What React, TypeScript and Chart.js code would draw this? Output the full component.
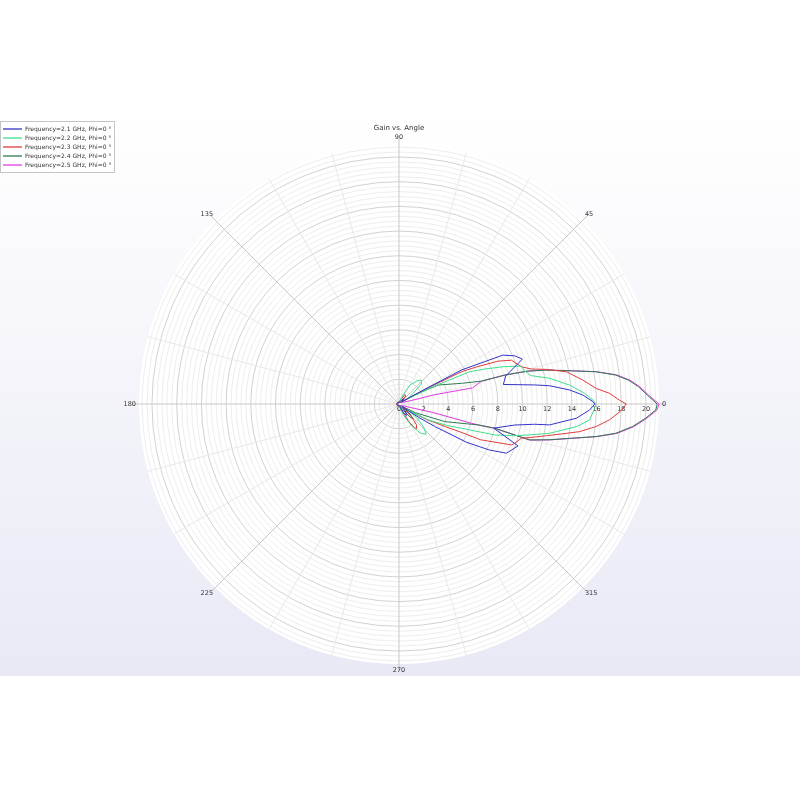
import { useEffect, useRef } from "react"
import { Chart, registerables, type Plugin } from "chart.js"

Chart.register(...registerables)

// far-field gain (linear) vs. angle in degrees
const seriesLabels = [
  "Frequency=2.1 GHz, Phi=0 °",
  "Frequency=2.2 GHz, Phi=0 °",
  "Frequency=2.3 GHz, Phi=0 °",
  "Frequency=2.4 GHz, Phi=0 °",
  "Frequency=2.5 GHz, Phi=0 °",
]
const seriesColors = ["#3434c8", "#3ee08c", "#e03c3c", "#2f7a52", "#e63ce6"]

const angle21 = [-180, -120, -90, -70, -62, -56, -50, -44, -38, -36, -34, -32, -29.5, -27, -25, -24.6, -19.4, -14.3, -10.3, -8.5, -7.9, -4.6, -1.8, 0, 0.7, 2.8, 4.7, 6.9, 8, 10.6, 14.7, 20, 22.6, 25.2, 28.5, 29.5, 32, 40, 48, 55, 65, 90, 120, 180]
const gain21 = [0.1, 0.15, 0.1, 0.3, 0.8, 1.1, 0.9, 0.4, 0.3, 1.0, 2.0, 3.5, 6.3, 8.2, 9.3, 9.57, 10.22, 7.92, 9.52, 11.1, 12.31, 14.4, 15.44, 15.85, 15.7, 14.9, 13.86, 12.29, 11.09, 8.59, 8.93, 10.63, 10.15, 9.29, 5.8, 2.7, 0.8, 0.3, 0.6, 0.4, 0.2, 0.1, 0.15, 0.1]

const angle22 = [-180, -100, -75, -68, -64, -60, -54, -48, -43, -38, -34, -31, -28.6, -24, -21.2, -17.9, -15.5, -13.3, -11, -7.3, -4.8, -1.3, 0, 1.2, 3.3, 6.3, 9.7, 12.2, 15, 17.2, 19.7, 22, 24.5, 26.5, 28.5, 32, 37, 42, 47, 52, 60, 66, 72, 100, 180]
const gain22 = [0.15, 0.15, 0.3, 0.9, 1.4, 2.0, 2.9, 3.3, 2.7, 1.8, 0.9, 1.6, 2.7, 4.3, 5.43, 8.15, 9.6, 10.87, 12.42, 14.47, 15.48, 15.84, 15.95, 15.7, 15.05, 13.9, 12.37, 10.9, 10.5, 10.37, 8.95, 7.6, 6.3, 3.5, 1.5, 0.8, 1.45, 2.4, 2.65, 2.4, 1.75, 0.8, 0.3, 0.15, 0.15]

const angle23 = [-180, -120, -80, -68, -64, -61, -57, -54, -50, -46, -42, -38, -33, -29, -26, -24.5, -23.7, -20, -18.7, -15.6, -14.4, -12, -10.3, -8.7, -6.5, -4.3, -2, 0, 1, 2.9, 4.5, 7.4, 10.2, 10.9, 13.2, 14.8, 16.9, 21.3, 23.4, 25.5, 27.3, 29, 31, 36, 42, 50, 58, 66, 90, 180]
const gain23 = [0.2, 0.2, 0.2, 0.3, 0.8, 1.6, 2.3, 2.45, 2.2, 1.5, 0.6, 0.5, 1.2, 2.6, 4.2, 5.5, 7.2, 9.69, 9.9, 10.29, 10.93, 12.3, 13.49, 14.79, 16.07, 17.09, 17.9, 18.4, 17.85, 17.07, 16.02, 15.01, 14.03, 13.8, 12.26, 11.09, 10.36, 9.77, 8.74, 7.0, 5.7, 2.7, 1.0, 0.3, 0.3, 0.85, 0.9, 0.4, 0.2, 0.2]

const angle24 = [-180, -100, -60, -54, -50, -46, -42, -38, -33, -28, -21, -14.8, -14.2, -15.4, -13.4, -11.1, -9.4, -7.7, -5.5, -3.3, -1.3, 0, 2.1, 4.1, 5.9, 7.6, 9.3, 10.8, 13, 14.3, 15.3, 15.5, 18.3, 25.8, 30, 34, 45, 100, 180]
const gain24 = [0.2, 0.2, 0.2, 0.7, 1.4, 1.65, 1.2, 0.4, 0.5, 1.5, 3.98, 6.63, 8.0, 10.95, 12.5, 14.35, 16.15, 17.7, 19.0, 20.0, 20.8, 20.9, 20.1, 19.45, 18.7, 17.7, 16.15, 14.3, 12.2, 10.78, 8.88, 6.93, 5.33, 3.53, 1.5, 0.4, 0.2, 0.2, 0.2]

const angle25 = [-180, -100, -40, -25, -17, -14, -14.9, -14.8, -14.2, -15.4, -13.4, -11.1, -9.4, -7.7, -5.5, -3.3, -1.3, 0, 2.1, 4.1, 5.9, 7.6, 9.3, 10.8, 13, 14.3, 15.3, 15.5, 12.4, 14.5, 16, 25, 40, 100, 180]
const gain25 = [0.2, 0.2, 0.2, 0.3, 1.0, 2.8, 6.08, 6.63, 8.0, 11.0, 12.55, 14.4, 16.2, 17.8, 19.1, 20.1, 20.9, 21.05, 20.2, 19.55, 18.8, 17.8, 16.2, 14.35, 12.25, 10.8, 8.9, 6.95, 6.1, 3.0, 1.0, 0.3, 0.2, 0.2, 0.2]

const seriesAngles = [angle21, angle22, angle23, angle24, angle25]
const seriesGains = [gain21, gain22, gain23, gain24, gain25]

const radialTicks = [0, 2, 4, 6, 8, 10, 12, 14, 16, 18, 20]
const angleTicks = [0, 45, 90, 135, 180, 225, 270, 315]
const gainMax = 21.05
const minorStep = 0.4

const font = (size: number) => `${size}px "DejaVu Sans", sans-serif`

const toXY = (angles: number[], gains: number[]) =>
  angles.map((a, i) => ({
    x: gains[i] * Math.cos((a * Math.PI) / 180),
    y: gains[i] * Math.sin((a * Math.PI) / 180),
  }))

const polarFrame: Plugin = {
  id: "polarFrame",
  beforeDraw(chart) {
    const { ctx } = chart
    const xs = chart.scales.x
    const ys = chart.scales.y
    const cx = xs.getPixelForValue(0)
    const cy = ys.getPixelForValue(0)
    const ppu = xs.getPixelForValue(1) - cx
    const R = gainMax * ppu

    ctx.save()
    const bg = ctx.createLinearGradient(0, 116, 0, 676)
    bg.addColorStop(0, "#ffffff")
    bg.addColorStop(1, "#e8e9f5")
    ctx.fillStyle = bg
    ctx.fillRect(0, 116, chart.width, 560)

    ctx.fillStyle = "#ffffff"
    ctx.beginPath()
    ctx.arc(cx, cy, R, 0, Math.PI * 2)
    ctx.fill()

    ctx.lineWidth = 1
    const nMinor = Math.floor(gainMax / minorStep)
    for (let k = 1; k <= nMinor; k++) {
      const major = k % 5 === 0
      ctx.strokeStyle = major ? "#d2d2d2" : "#eeeeee"
      ctx.beginPath()
      ctx.arc(cx, cy, k * minorStep * ppu, 0, Math.PI * 2)
      ctx.stroke()
    }

    for (let a = 0; a < 360; a += 15) {
      const major = a % 45 === 0
      const len = major ? R + 6 : R
      const t = (a * Math.PI) / 180
      ctx.strokeStyle = major ? "#c8c8c8" : "#e9e9e9"
      ctx.beginPath()
      ctx.moveTo(cx, cy)
      ctx.lineTo(cx + len * Math.cos(t), cy - len * Math.sin(t))
      ctx.stroke()
    }

    ctx.fillStyle = "#333333"
    ctx.font = font(6.5)
    ctx.textAlign = "center"
    ctx.textBaseline = "top"
    radialTicks.forEach((v) => {
      ctx.fillText(String(v), xs.getPixelForValue(v), cy + 2)
    })

    angleTicks.forEach((a) => {
      const t = (a * Math.PI) / 180
      const c = Math.cos(t)
      const s = Math.sin(t)
      const p = R + 3
      ctx.textAlign = c > 0.3 ? "left" : c < -0.3 ? "right" : "center"
      ctx.textBaseline = s > 0.3 ? "bottom" : s < -0.3 ? "top" : "middle"
      ctx.fillText(String(a), cx + p * c, cy - p * s)
    })

    ctx.font = font(7)
    ctx.textAlign = "center"
    ctx.textBaseline = "middle"
    ctx.fillText("Gain vs. Angle", cx, 128)
    ctx.restore()
  },
  afterDraw(chart) {
    const { ctx } = chart
    ctx.save()
    ctx.fillStyle = "#ffffff"
    ctx.strokeStyle = "#c4c4c4"
    ctx.lineWidth = 1
    ctx.fillRect(0.5, 121.5, 114, 51)
    ctx.strokeRect(0.5, 121.5, 114, 51)
    ctx.font = font(6)
    ctx.textAlign = "left"
    ctx.textBaseline = "middle"
    seriesLabels.forEach((label, i) => {
      const y = 129 + i * 9
      ctx.strokeStyle = seriesColors[i]
      ctx.lineWidth = 1.3
      ctx.beginPath()
      ctx.moveTo(3, y)
      ctx.lineTo(22, y)
      ctx.stroke()
      ctx.fillStyle = "#333333"
      ctx.fillText(label, 25, y + 0.5)
    })
    ctx.restore()
  },
}

export default function App() {
  const canvasRef = useRef<HTMLCanvasElement | null>(null)
  const chartRef = useRef<Chart | null>(null)

  useEffect(() => {
    if (!canvasRef.current) return
    const ctx = canvasRef.current.getContext("2d")
    if (!ctx) return
    if (chartRef.current) chartRef.current.destroy()

    chartRef.current = new Chart(ctx, {
      type: "scatter",
      data: {
        datasets: seriesLabels.map((label, i) => ({
          label,
          data: toXY(seriesAngles[i], seriesGains[i]),
          showLine: true,
          borderColor: seriesColors[i],
          backgroundColor: seriesColors[i],
          borderWidth: 1,
          pointRadius: 0,
          tension: 0,
          fill: false,
          clip: false as const,
        })),
      },
      options: {
        animation: false,
        responsive: true,
        maintainAspectRatio: false,
        events: [],
        layout: { padding: { left: 139, right: 141, top: 144, bottom: 136 } },
        scales: {
          x: { type: "linear", min: -gainMax, max: gainMax, display: false },
          y: { type: "linear", min: -gainMax, max: gainMax, display: false },
        },
        plugins: {
          legend: { display: false },
          title: { display: false },
          tooltip: { enabled: false },
        },
      },
      plugins: [polarFrame],
    })

    return () => {
      if (chartRef.current) {
        chartRef.current.destroy()
        chartRef.current = null
      }
    }
  }, [])

  return (
    <div style={{ position: "absolute", left: 0, top: 0, width: 800, height: 800 }}>
      <canvas ref={canvasRef} />
    </div>
  )
}
